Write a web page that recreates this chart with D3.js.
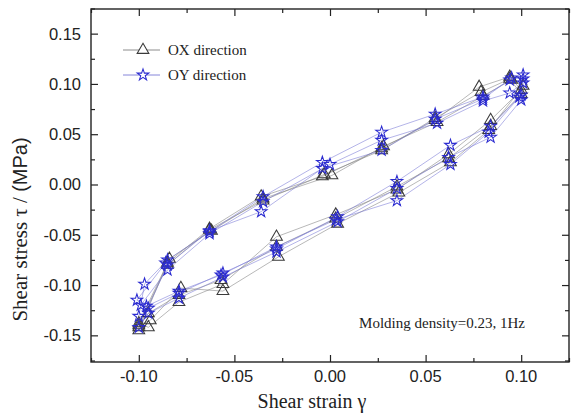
<!DOCTYPE html>
<html>
<head>
<meta charset="utf-8">
<script src="https://cdn.jsdelivr.net/npm/d3@7"></script>
<style>
  html, body { margin: 0; padding: 0; background: #fff; }
  svg { display: block; }
</style>
</head>
<body>
<svg id="chart" width="573" height="416"></svg>
<script>
// Shear strain / shear stress loops, OX direction (three cycles, continuous path)
const strainOX = [
  -0.100, -0.085, -0.063, -0.036, -0.004, 0.027, 0.055, 0.078, 0.094, 0.100, 0.084, 0.062, 0.035, 0.003, -0.028, -0.056, -0.079, -0.095,
  -0.100, -0.084, -0.062, -0.035, 0.001, 0.028, 0.056, 0.080, 0.095, 0.101, 0.083, 0.063, 0.036, 0.004, -0.027, -0.056, -0.078, -0.094,
  -0.100, -0.085, -0.063, -0.035, -0.003, 0.027, 0.055, 0.079, 0.094, 0.100, 0.084, 0.062, 0.035, 0.003, -0.028, -0.057, -0.079, -0.095, -0.100
];
const stressOX = [
  -0.145, -0.078, -0.044, -0.012, 0.008, 0.036, 0.064, 0.097, 0.107, 0.094, 0.064, 0.030, -0.005, -0.030, -0.052, -0.099, -0.117, -0.142,
  -0.138, -0.074, -0.046, -0.014, 0.009, 0.038, 0.062, 0.088, 0.104, 0.098, 0.054, 0.022, -0.008, -0.039, -0.072, -0.106, -0.103, -0.135,
  -0.140, -0.080, -0.045, -0.016, 0.010, 0.034, 0.066, 0.092, 0.105, 0.090, 0.058, 0.026, -0.002, -0.034, -0.062, -0.095, -0.110, -0.128, -0.142
];

// OY direction (three and a bit cycles)
const strainOY = [
  -0.100, -0.097, -0.085, -0.063, -0.035, -0.004, 0.027, 0.055, 0.080, 0.094, 0.101, 0.100, 0.084, 0.063, 0.035, 0.004, -0.028, -0.056, -0.079, -0.095,
  -0.099, -0.085, -0.063, -0.035, 0.000, 0.027, 0.056, 0.080, 0.094, 0.101, 0.100, 0.084, 0.062, 0.035, 0.004, -0.028, -0.056, -0.079, -0.095,
  -0.100, -0.085, -0.063, -0.036, -0.004, 0.027, 0.055, 0.080, 0.095, 0.101, 0.099, 0.083, 0.063, 0.035, 0.003, -0.028, -0.057, -0.079, -0.096,
  -0.101, -0.086
];
const stressOY = [
  -0.131, -0.099, -0.075, -0.047, -0.012, 0.022, 0.052, 0.070, 0.087, 0.104, 0.109, 0.089, 0.058, 0.039, 0.003, -0.032, -0.064, -0.088, -0.108, -0.123,
  -0.120, -0.085, -0.049, -0.017, 0.020, 0.044, 0.061, 0.083, 0.091, 0.101, 0.084, 0.047, 0.027, -0.004, -0.037, -0.067, -0.092, -0.113, -0.128,
  -0.142, -0.080, -0.046, -0.027, 0.016, 0.034, 0.065, 0.085, 0.106, 0.105, 0.087, 0.052, 0.020, -0.016, -0.035, -0.062, -0.090, -0.106, -0.121,
  -0.115, -0.078
];

const xTicks = [-0.10, -0.05, 0.00, 0.05, 0.10];
const yTicks = [-0.15, -0.10, -0.05, 0.00, 0.05, 0.10, 0.15];
const xMinor = [-0.125, -0.075, -0.025, 0.025, 0.075, 0.125];
const yMinor = [-0.175, -0.125, -0.075, -0.025, 0.025, 0.075, 0.125, 0.175];

const seriesNames = ["OX direction", "OY direction"];
const annotation = "Molding density=0.23, 1Hz";

const svg = d3.select("#chart");
const plotL = 91, plotR = 569, plotT = 9, plotB = 362;

const x = d3.scaleLinear().domain([-0.125, 0.125]).range([plotL, plotR]);
const y = d3.scaleLinear().domain([-0.1765, 0.1745]).range([plotB, plotT]);

const fmt = v => d3.format(".2f")(v).replace("\u2212", "-");

const series = [
  { name: seriesNames[0], xs: strainOX, ys: stressOX, symbol: d3.symbolTriangle, size: 60,
    line: "#808080", mark: "#3a3a3a" },
  { name: seriesNames[1], xs: strainOY, ys: stressOY, symbol: d3.symbolStar, size: 42,
    line: "#7878d6", mark: "#2b2bd0" }
];

const lineGen = d3.line().x(d => x(d[0])).y(d => y(d[1]));

series.forEach(s => {
  const pts = s.xs.map((v, i) => [v, s.ys[i]]);
  svg.append("path")
    .attr("d", lineGen(pts))
    .attr("fill", "none")
    .attr("stroke", s.line)
    .attr("stroke-width", 0.7)
    .attr("stroke-opacity", 0.8);
});

series.forEach(s => {
  const pts = s.xs.map((v, i) => [v, s.ys[i]]);
  svg.append("g").selectAll("path")
    .data(pts)
    .join("path")
    .attr("transform", d => `translate(${x(d[0])},${y(d[1])})`)
    .attr("d", d3.symbol(s.symbol, s.size))
    .attr("fill", "none")
    .attr("stroke", s.mark)
    .attr("stroke-width", 1.05);
});

// Axes: ticks point inward on all four sides
const tickFont = "'Liberation Sans', Arial, sans-serif";
const gx = svg.append("g").attr("transform", `translate(0,${plotB})`)
  .call(d3.axisTop(x).tickValues(xTicks).tickSize(7).tickFormat(""));
gx.append("g").call(d3.axisTop(x).tickValues(xMinor).tickSize(4).tickFormat(""));
const gxt = svg.append("g").attr("transform", `translate(0,${plotT})`)
  .call(d3.axisBottom(x).tickValues(xTicks).tickSize(7).tickFormat(""));
gxt.append("g").call(d3.axisBottom(x).tickValues(xMinor).tickSize(4).tickFormat(""));
const gy = svg.append("g").attr("transform", `translate(${plotL},0)`)
  .call(d3.axisRight(y).tickValues(yTicks).tickSize(7).tickFormat(""));
gy.append("g").call(d3.axisRight(y).tickValues(yMinor).tickSize(4).tickFormat(""));
const gyr = svg.append("g").attr("transform", `translate(${plotR},0)`)
  .call(d3.axisLeft(y).tickValues(yTicks).tickSize(7).tickFormat(""));
gyr.append("g").call(d3.axisLeft(y).tickValues(yMinor).tickSize(4).tickFormat(""));
svg.selectAll(".domain").remove();
svg.selectAll(".tick line").attr("stroke", "#222").attr("stroke-width", 1.2);

svg.append("rect")
  .attr("x", plotL).attr("y", plotT)
  .attr("width", plotR - plotL).attr("height", plotB - plotT)
  .attr("fill", "none").attr("stroke", "#222").attr("stroke-width", 1.4);

// Tick labels
svg.append("g").selectAll("text").data(xTicks).join("text")
  .attr("x", d => x(d)).attr("y", plotB + 20)
  .attr("text-anchor", "middle")
  .attr("font-family", tickFont).attr("font-size", 16.5).attr("fill", "#222")
  .text(fmt);
svg.append("g").selectAll("text").data(yTicks).join("text")
  .attr("x", plotL - 10).attr("y", d => y(d) + 6)
  .attr("text-anchor", "end")
  .attr("font-family", tickFont).attr("font-size", 16.5).attr("fill", "#222")
  .text(fmt);

// Axis titles
const serif = "'Liberation Serif', 'Times New Roman', serif";
svg.append("text")
  .attr("x", 312).attr("y", 408)
  .attr("text-anchor", "middle")
  .attr("font-family", serif).attr("font-size", 20).attr("fill", "#222")
  .text("Shear strain \u03b3");

const yt = svg.append("text")
  .attr("transform", `translate(27,${(plotT + plotB) / 2 + 44}) rotate(-90)`)
  .attr("text-anchor", "middle")
  .attr("font-family", serif).attr("font-size", 21).attr("fill", "#222");
yt.append("tspan").text("Shear stress \u03c4 / ");
yt.append("tspan").attr("font-family", tickFont).attr("font-size", 20).text("(MPa)");

// Legend
series.forEach((s, i) => {
  const ly = 50 + i * 25;
  const g = svg.append("g");
  g.append("line").attr("x1", 123).attr("x2", 160).attr("y1", ly).attr("y2", ly)
    .attr("stroke", s.line).attr("stroke-width", 0.9);
  g.append("path").attr("transform", `translate(143,${ly})`)
    .attr("d", d3.symbol(s.symbol, s.size))
    .attr("fill", "#fff").attr("stroke", s.mark).attr("stroke-width", 1.05);
  g.append("text").attr("x", 168).attr("y", ly + 5)
    .attr("font-family", serif).attr("font-size", 15).attr("fill", "#222")
    .text(s.name);
});

// Test condition note
svg.append("text")
  .attr("x", 525).attr("y", 328)
  .attr("text-anchor", "end")
  .attr("font-family", serif).attr("font-size", 15).attr("fill", "#222")
  .text(annotation);
</script>
</body>
</html>
